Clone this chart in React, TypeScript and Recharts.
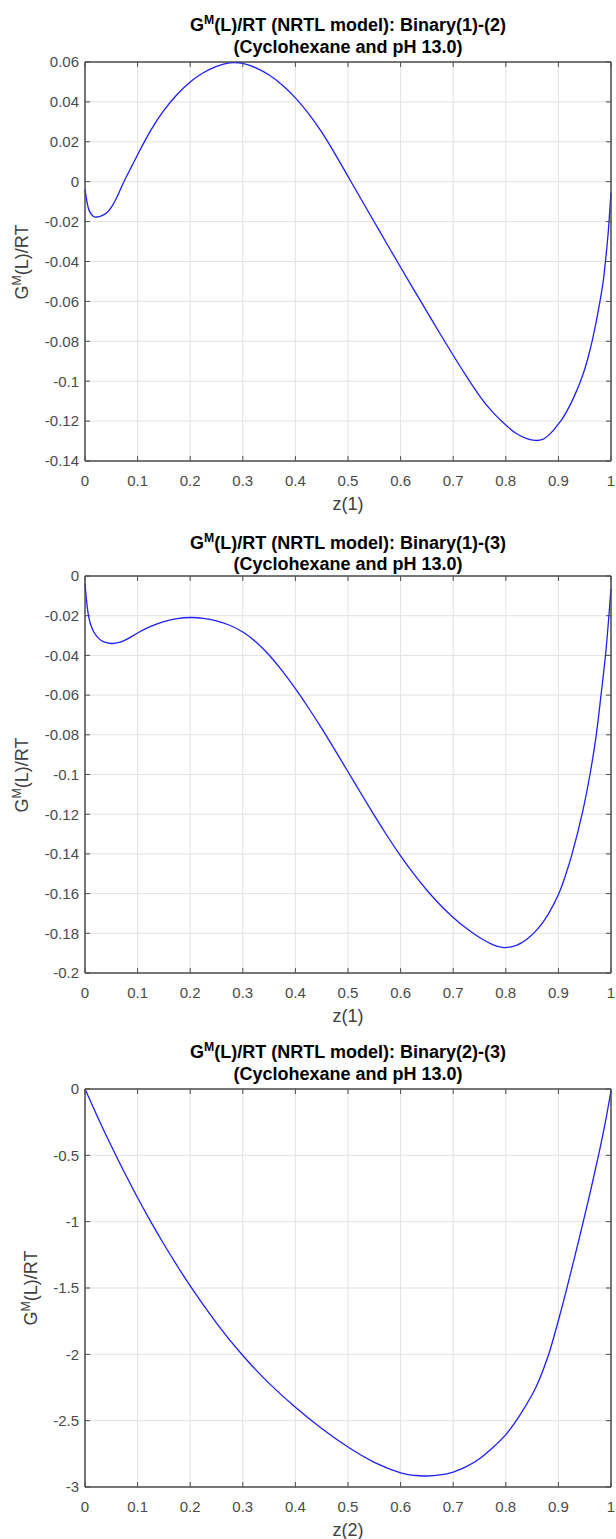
import { LineChart, Line, XAxis, YAxis, CartesianGrid, ReferenceArea } from 'recharts';

// shared x ticks
const zTicks = [0, 0.1, 0.2, 0.3, 0.4, 0.5, 0.6, 0.7, 0.8, 0.9, 1];

// Binary (1)-(2)
const z12 = [0, 0.004, 0.008, 0.015, 0.022, 0.03, 0.041, 0.05, 0.057, 0.065, 0.074, 0.087, 0.1, 0.125, 0.15, 0.175, 0.2, 0.225, 0.25, 0.275, 0.3, 0.325, 0.35, 0.375, 0.4, 0.425, 0.45, 0.475, 0.5, 0.525, 0.55, 0.575, 0.6, 0.625, 0.65, 0.675, 0.7, 0.725, 0.75, 0.775, 0.8, 0.82, 0.84, 0.856, 0.87, 0.88, 0.89, 0.9, 0.907, 0.915, 0.925, 0.935, 0.942, 0.95, 0.957, 0.964, 0.972, 0.979, 0.985, 0.989, 0.993, 0.996, 1];
const g12 = [-0.004, -0.0105, -0.0145, -0.0172, -0.0177, -0.0172, -0.0157, -0.0129, -0.0097, -0.0053, 0, 0.0068, 0.0135, 0.0257, 0.0357, 0.0437, 0.05, 0.0546, 0.0578, 0.0596, 0.0593, 0.0571, 0.0535, 0.0485, 0.042, 0.0341, 0.0248, 0.0141, 0.0027, -0.0088, -0.0202, -0.0316, -0.0429, -0.0541, -0.0651, -0.0762, -0.087, -0.0975, -0.1073, -0.1155, -0.122, -0.1262, -0.1288, -0.1297, -0.1292, -0.1274, -0.1248, -0.1214, -0.119, -0.1155, -0.1105, -0.1046, -0.1, -0.094, -0.0875, -0.08, -0.07, -0.06, -0.0503, -0.041, -0.0305, -0.021, -0.0055];
const ticks12 = [0.06, 0.04, 0.02, 0, -0.02, -0.04, -0.06, -0.08, -0.1, -0.12, -0.14];

// Binary (1)-(3)
const z13 = [0, 0.003, 0.0063, 0.01, 0.016, 0.025, 0.035, 0.05, 0.065, 0.08, 0.1, 0.125, 0.15, 0.175, 0.2, 0.225, 0.25, 0.275, 0.3, 0.325, 0.35, 0.375, 0.4, 0.425, 0.45, 0.475, 0.5, 0.525, 0.55, 0.575, 0.6, 0.625, 0.65, 0.675, 0.7, 0.725, 0.75, 0.775, 0.796, 0.82, 0.84, 0.86, 0.88, 0.9, 0.913, 0.926, 0.945, 0.96, 0.972, 0.981, 0.9895, 0.996, 1];
const g13 = [-0.0038, -0.0125, -0.0195, -0.0238, -0.0278, -0.0312, -0.0331, -0.034, -0.0335, -0.0318, -0.0287, -0.0254, -0.023, -0.0215, -0.0209, -0.0213, -0.0226, -0.0248, -0.0282, -0.0332, -0.0398, -0.0478, -0.0568, -0.0665, -0.0768, -0.0876, -0.0986, -0.1097, -0.1206, -0.1311, -0.141, -0.1501, -0.1583, -0.1656, -0.172, -0.1775, -0.1821, -0.1857, -0.1872, -0.1861, -0.183, -0.178, -0.1707, -0.1605, -0.1512, -0.14, -0.12, -0.1, -0.08, -0.06, -0.04, -0.02, -0.0064];
const ticks13 = [0, -0.02, -0.04, -0.06, -0.08, -0.1, -0.12, -0.14, -0.16, -0.18, -0.2];

// Binary (2)-(3)
const z23 = [0, 0.025, 0.05, 0.075, 0.1, 0.125, 0.15, 0.175, 0.2, 0.25, 0.3, 0.35, 0.4, 0.45, 0.5, 0.55, 0.6, 0.625, 0.65, 0.675, 0.7, 0.725, 0.75, 0.775, 0.8, 0.825, 0.85, 0.865, 0.879, 0.89, 0.9, 0.913, 0.93, 0.946, 0.963, 0.978, 0.99, 1];
const g23 = [0, -0.22, -0.43, -0.63, -0.82, -1.0, -1.17, -1.331, -1.484, -1.764, -2.009, -2.219, -2.399, -2.559, -2.699, -2.814, -2.894, -2.912, -2.917, -2.909, -2.887, -2.847, -2.787, -2.704, -2.605, -2.47, -2.305, -2.178, -2.03, -1.888, -1.745, -1.55, -1.28, -1.021, -0.735, -0.468, -0.234, -0.014];
const ticks23 = [0, -0.5, -1, -1.5, -2, -2.5, -3];

const FONT = '"Liberation Sans", Arial, Helvetica, sans-serif';
const AXIS = '#4d4d4d';
const TICK = '#4a4a4a';
const GRID = '#e3e3e3';

const PLOT_L = 85;
const PLOT_R = 611;
const CX = (PLOT_L + PLOT_R) / 2;

interface PanelProps {
  pair: string;
  xLabel: string;
  zs: number[];
  gs: number[];
  yTicks: number[];
  top: number;
  height: number;
  labelX: number;
  titleY: number;
}

const Sup = ({ children }: { children: string }) => (
  <sup style={{ fontSize: '0.68em', verticalAlign: '0.6em', lineHeight: 0 }}>{children}</sup>
);

function Panel({ pair, xLabel, zs, gs, yTicks, top, height, labelX, titleY }: PanelProps) {
  const data = zs.map((z, i) => ({ z, g: gs[i] }));
  const yMin = yTicks[yTicks.length - 1];
  const yMax = yTicks[0];
  const mt = 10;
  const chartH = height + mt + 30 + 10;
  const fmt = (v: number) => String(v);
  const blank = () => '';
  const lh = 21.5;

  return (
    <>
      <div
        style={{
          position: 'absolute', left: CX - 300, width: 600, top: titleY - lh * 1.5,
          textAlign: 'center', fontFamily: FONT, fontWeight: 'bold', fontSize: 18,
          lineHeight: `${lh}px`, color: '#000',
        }}
      >
        <div>G<Sup>M</Sup>(L)/RT (NRTL model): Binary{pair}</div>
        <div>(Cyclohexane and pH 13.0)</div>
      </div>
      <div style={{ position: 'absolute', left: 0, top: top - mt }}>
        <LineChart width={616} height={chartH} data={data} margin={{ top: mt - 1, right: 616 - PLOT_R - 1, bottom: 10, left: 0 }}>
          <CartesianGrid stroke={GRID} strokeWidth={1} />
          <XAxis
            dataKey="z" type="number" domain={[0, 1]} ticks={zTicks} interval={0}
            tickFormatter={fmt} height={30} tickSize={-5} tickMargin={19}
            axisLine={{ stroke: AXIS }} tickLine={{ stroke: AXIS }}
            tick={{ fill: TICK, fontSize: 15, fontFamily: FONT }}
          />
          <XAxis
            xAxisId="top" dataKey="z" orientation="top" type="number" domain={[0, 1]} ticks={zTicks}
            interval={0} height={1} tickSize={-5} tickFormatter={blank} allowDataOverflow
            axisLine={{ stroke: AXIS }} tickLine={{ stroke: AXIS }}
          />
          <YAxis
            type="number" domain={[yMin, yMax]} ticks={yTicks} interval={0} width={PLOT_L}
            tickFormatter={fmt} tickSize={-5} tickMargin={11} allowDataOverflow
            axisLine={{ stroke: AXIS }} tickLine={{ stroke: AXIS }}
            tick={{ fill: TICK, fontSize: 15, fontFamily: FONT }}
          />
          <YAxis
            yAxisId="right" dataKey="g" orientation="right" type="number" domain={[yMin, yMax]} ticks={yTicks}
            interval={0} width={1} tickSize={-5} tickFormatter={blank} allowDataOverflow
            axisLine={{ stroke: AXIS }} tickLine={{ stroke: AXIS }}
          />
          <ReferenceArea
            x1={0} x2={1} y1={yMin} y2={yMax} fill="none" stroke={AXIS} strokeWidth={1}
            ifOverflow="visible"
          />
          <Line
            dataKey="g" type="natural" stroke="#1f1fff" strokeWidth={1.3}
            dot={false} isAnimationActive={false}
          />
        </LineChart>
      </div>
      <div
        style={{
          position: 'absolute', left: CX - 100, width: 200, top: top + height + 43 - 11,
          height: 22, lineHeight: '22px', textAlign: 'center',
          fontFamily: FONT, fontSize: 18, color: '#404040',
        }}
      >
        {xLabel}
      </div>
      <div
        style={{
          position: 'absolute', left: labelX - 100, width: 200, top: top + height / 2 - 11,
          height: 22, lineHeight: '22px', textAlign: 'center', transform: 'rotate(-90deg)',
          fontFamily: FONT, fontSize: 18, color: '#404040', whiteSpace: 'nowrap',
        }}
      >
        G<Sup>M</Sup>(L)/RT
      </div>
    </>
  );
}

export default function App() {
  return (
    <div style={{ position: 'absolute', left: 0, top: 0, width: 616, height: 1539, background: '#fff' }}>
      <Panel pair="(1)-(2)" xLabel="z(1)" zs={z12} gs={g12} yTicks={ticks12} top={62} height={399} labelX={22} titleY={47.5} />
      <Panel pair="(1)-(3)" xLabel="z(1)" zs={z13} gs={g13} yTicks={ticks13} top={576} height={397} labelX={22} titleY={565} />
      <Panel pair="(2)-(3)" xLabel="z(2)" zs={z23} gs={g23} yTicks={ticks23} top={1089} height={398} labelX={31} titleY={1074.5} />
    </div>
  );
}
